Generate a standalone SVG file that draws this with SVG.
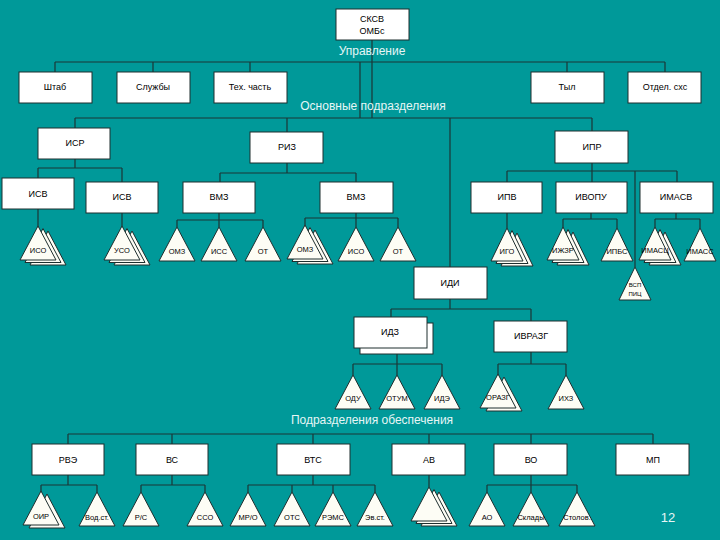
<svg xmlns="http://www.w3.org/2000/svg" xmlns:xlink="http://www.w3.org/1999/xlink" width="720" height="540" viewBox="0 0 720 540">
<style>
.bg{fill:#009999}
.box{fill:#ffffff;stroke:#1e2e2e;stroke-width:1}
.tri{fill:#fdfdf5;stroke:#1e2e2e;stroke-width:1}
.lbl{font-family:"Liberation Sans",Arial,sans-serif;font-size:9px;fill:#000;text-anchor:middle}
.tl{font-family:"Liberation Sans",Arial,sans-serif;font-size:7.5px;fill:#000;text-anchor:middle}
.sec{font-family:"Liberation Sans",Arial,sans-serif;font-size:12px;fill:#e6f6f6;text-anchor:middle}
.con{fill:none;stroke:#1b3636;stroke-width:1.2}
</style>
<defs>
<polygon id="t" class="tri" points="0,0 -18,34 18,34"/>
<polygon id="tn" class="tri" points="0,0 -16,33 16,33"/>
<g id="t3"><use xlink:href="#t" x="10" y="5"/><use xlink:href="#t" x="5" y="2.5"/><use xlink:href="#t"/></g>
<g id="t2"><use xlink:href="#t" x="6" y="3"/><use xlink:href="#t"/></g>
<g id="tn3"><use xlink:href="#tn" x="10" y="5"/><use xlink:href="#tn" x="5" y="2.5"/><use xlink:href="#tn"/></g>
</defs>
<rect class="bg" x="0" y="0" width="720" height="540"/>

<g id="connectors">
<path class="con" d="M372,40V118 M360,62V118 M55,62H665 M55,62V72 M153,62V72 M250,62V72 M567,62V72 M665,62V72"/>
<path class="con" d="M75,118H592 M75,118V128 M287,118V132 M592,118V131 M450,118V267"/>
<path class="con" d="M75,159V168 M38,168H122 M38,168V178 M122,168V182"/>
<path class="con" d="M287,163V173 M220,173H356 M220,173V182 M356,173V182"/>
<path class="con" d="M592,163V171 M507,171H677 M507,171V182 M592,171V182 M677,171V182 M635,171V267"/>
<path class="con" d="M38,209V227 M122,213V227"/>
<path class="con" d="M219,213V220 M177,220H263 M177,220V227 M219,220V227 M263,220V227"/>
<path class="con" d="M356,213V218 M305,218H398 M305,218V227 M356,218V227 M398,218V227"/>
<path class="con" d="M507,213V228 M591,213V219 M563,219H617 M563,219V228 M617,219V228 M676,213V219 M655,219H700 M655,219V228 M700,219V228"/>
<path class="con" d="M450,299V309 M391,309H531 M391,309V317 M531,309V321"/>
<path class="con" d="M397,354V364 M353,364H442 M353,364V375 M397,364V375 M442,364V375 M531,352V364 M498,364H566 M498,364V375 M566,364V375"/>
<path class="con" d="M68,434H653 M68,434V444 M172,434V444 M313,434V444 M429,434V444 M531,434V444 M653,434V444"/>
<path class="con" d="M68,475V485 M41,485H97 M41,485V492 M97,485V492 M172,475V485 M141,485H205 M141,485V492 M205,485V492"/>
<path class="con" d="M313,475V485 M248,485H375 M248,485V492 M292,485V492 M333,485V492 M375,485V492 M429,475V487"/>
<path class="con" d="M531,475V485 M487,485H577 M487,485V492 M531,485V492 M577,485V492"/>
</g>

<text class="sec" x="372" y="55">Управление</text>
<text class="sec" x="373" y="110">Основные подразделения</text>
<text class="sec" x="372" y="424">Подразделения обеспечения</text>
<text class="sec" x="668" y="522" style="font-size:13px">12</text>

<g id="n-top"><rect class="box" x="336" y="9" width="73" height="31"/><text class="lbl" x="372" y="22">СКСВ</text><text class="lbl" x="372" y="34">ОМБс</text></g>

<g id="n-shtab"><rect class="box" x="19" y="72" width="73" height="31"/><text class="lbl" x="55" y="90">Штаб</text></g>
<g id="n-sluzhby"><rect class="box" x="117" y="72" width="73" height="31"/><text class="lbl" x="153" y="90">Службы</text></g>
<g id="n-tech"><rect class="box" x="214" y="72" width="73" height="31"/><text class="lbl" x="250" y="90">Тех. часть</text></g>
<g id="n-tyl"><rect class="box" x="531" y="72" width="73" height="31"/><text class="lbl" x="567" y="90">Тыл</text></g>
<g id="n-otdel"><rect class="box" x="628" y="72" width="73" height="31"/><text class="lbl" x="665" y="90">Отдел. схс</text></g>

<g id="n-isr"><rect class="box" x="38" y="128" width="72" height="31"/><text class="lbl" x="75" y="146">ИСР</text></g>
<g id="n-riz"><rect class="box" x="250" y="132" width="73" height="31"/><text class="lbl" x="287" y="150">РИЗ</text></g>
<g id="n-ipr"><rect class="box" x="555" y="131" width="73" height="32"/><text class="lbl" x="592" y="150">ИПР</text></g>

<g id="n-isv1"><rect class="box" x="2" y="178" width="72" height="31"/><text class="lbl" x="38" y="197">ИСВ</text></g>
<g id="n-isv2"><rect class="box" x="86" y="182" width="72" height="31"/><text class="lbl" x="122" y="200">ИСВ</text></g>
<g id="n-vmz1"><rect class="box" x="183" y="182" width="72" height="31"/><text class="lbl" x="219" y="200">ВМЗ</text></g>
<g id="n-vmz2"><rect class="box" x="320" y="182" width="73" height="31"/><text class="lbl" x="356" y="200">ВМЗ</text></g>
<g id="n-ipv"><rect class="box" x="471" y="182" width="71" height="31"/><text class="lbl" x="507" y="200">ИПВ</text></g>
<g id="n-ivopu"><rect class="box" x="556" y="182" width="71" height="31"/><text class="lbl" x="591" y="200">ИВОПУ</text></g>
<g id="n-imasv"><rect class="box" x="640" y="182" width="73" height="31"/><text class="lbl" x="676" y="200">ИМАСВ</text></g>

<g id="n-iso1"><use xlink:href="#t3" x="38" y="226"/><text class="tl" x="38" y="253">ИСО</text></g>
<g id="n-uso"><use xlink:href="#t3" x="122" y="226"/><text class="tl" x="122" y="253">УСО</text></g>
<g id="n-omz1"><use xlink:href="#t" x="177" y="227"/><text class="tl" x="177" y="254">ОМЗ</text></g>
<g id="n-iss"><use xlink:href="#t" x="219" y="227"/><text class="tl" x="219" y="254">ИСС</text></g>
<g id="n-ot1"><use xlink:href="#t" x="263" y="227"/><text class="tl" x="263" y="254">ОТ</text></g>
<g id="n-omz2"><use xlink:href="#t3" x="305" y="225"/><text class="tl" x="305" y="252">ОМЗ</text></g>
<g id="n-iso2"><use xlink:href="#t" x="356" y="227"/><text class="tl" x="356" y="254">ИСО</text></g>
<g id="n-ot2"><use xlink:href="#t" x="398" y="227"/><text class="tl" x="398" y="254">ОТ</text></g>
<g id="n-igo"><use xlink:href="#tn3" x="507" y="228"/><text class="tl" x="507" y="254">ИГО</text></g>
<g id="n-izhzr"><use xlink:href="#tn3" x="563" y="227"/><text class="tl" x="563" y="253">ИЖЗР</text></g>
<g id="n-ipbs"><use xlink:href="#tn" x="617" y="228"/><text class="tl" x="617" y="254">ИПБС</text></g>
<g id="n-imasc"><use xlink:href="#tn3" x="655" y="227"/><text class="tl" x="655" y="253">ИМАСЦ</text></g>
<g id="n-imass"><use xlink:href="#tn" x="700" y="228"/><text class="tl" x="700" y="254">ИМАСС</text></g>
<g id="n-vsp"><use xlink:href="#tn" x="635" y="267"/><text class="tl" x="635" y="287" style="font-size:6px">ВСП</text><text class="tl" x="635" y="296" style="font-size:6px">ПИЦ</text></g>

<g id="n-idi"><rect class="box" x="414" y="267" width="73" height="32"/><text class="lbl" x="450" y="286">ИДИ</text></g>
<g id="n-idz"><rect class="box" x="360" y="323" width="73" height="31"/><rect class="box" x="354" y="317" width="73" height="31"/><text class="lbl" x="390" y="335">ИДЗ</text></g>
<g id="n-ivrazg"><rect class="box" x="494" y="321" width="73" height="31"/><text class="lbl" x="531" y="339">ИВРАЗГ</text></g>

<g id="n-odu"><use xlink:href="#t" x="353" y="375"/><text class="tl" x="353" y="401">ОДУ</text></g>
<g id="n-otum"><use xlink:href="#t" x="397" y="375"/><text class="tl" x="397" y="401">ОТУМ</text></g>
<g id="n-ide"><use xlink:href="#t" x="442" y="375"/><text class="tl" x="442" y="401">ИДЭ</text></g>
<g id="n-orazg"><use xlink:href="#t2" x="498" y="374"/><text class="tl" x="498" y="400">ОРАЗГ</text></g>
<g id="n-ihz"><use xlink:href="#t" x="566" y="375"/><text class="tl" x="566" y="401">ИХЗ</text></g>

<g id="n-rve"><rect class="box" x="32" y="444" width="72" height="31"/><text class="lbl" x="68" y="463">РВЭ</text></g>
<g id="n-vs"><rect class="box" x="136" y="444" width="72" height="31"/><text class="lbl" x="172" y="463">ВС</text></g>
<g id="n-vts"><rect class="box" x="277" y="444" width="73" height="31"/><text class="lbl" x="313" y="463">ВТС</text></g>
<g id="n-av"><rect class="box" x="392" y="444" width="73" height="31"/><text class="lbl" x="429" y="463">АВ</text></g>
<g id="n-vo"><rect class="box" x="494" y="444" width="73" height="31"/><text class="lbl" x="531" y="463">ВО</text></g>
<g id="n-mp"><rect class="box" x="616" y="444" width="73" height="31"/><text class="lbl" x="653" y="463">МП</text></g>

<g id="n-oir"><use xlink:href="#t2" x="41" y="491"/><text class="tl" x="41" y="519">ОИР</text></g>
<g id="n-vodst"><use xlink:href="#t" x="97" y="492"/><text class="tl" x="97" y="520">Вод.ст.</text></g>
<g id="n-rs"><use xlink:href="#t" x="141" y="492"/><text class="tl" x="141" y="520">Р/С</text></g>
<g id="n-sso"><use xlink:href="#t" x="205" y="492"/><text class="tl" x="205" y="520">ССО</text></g>
<g id="n-mro"><use xlink:href="#t" x="248" y="492"/><text class="tl" x="248" y="520">МР/О</text></g>
<g id="n-ots"><use xlink:href="#t" x="292" y="492"/><text class="tl" x="292" y="520">ОТС</text></g>
<g id="n-rems"><use xlink:href="#t" x="333" y="492"/><text class="tl" x="333" y="520">РЭМС</text></g>
<g id="n-evst"><use xlink:href="#t" x="375" y="492"/><text class="tl" x="375" y="520">Эв.ст.</text></g>
<g id="n-avt"><use xlink:href="#t3" x="429" y="487"/></g>
<g id="n-ao"><use xlink:href="#t" x="487" y="492"/><text class="tl" x="487" y="520">АО</text></g>
<g id="n-sklady"><use xlink:href="#t" x="531" y="492"/><text class="tl" x="531" y="520">Склады</text></g>
<g id="n-stolov"><use xlink:href="#t" x="577" y="492"/><text class="tl" x="577" y="520">Столов.</text></g>
</svg>
